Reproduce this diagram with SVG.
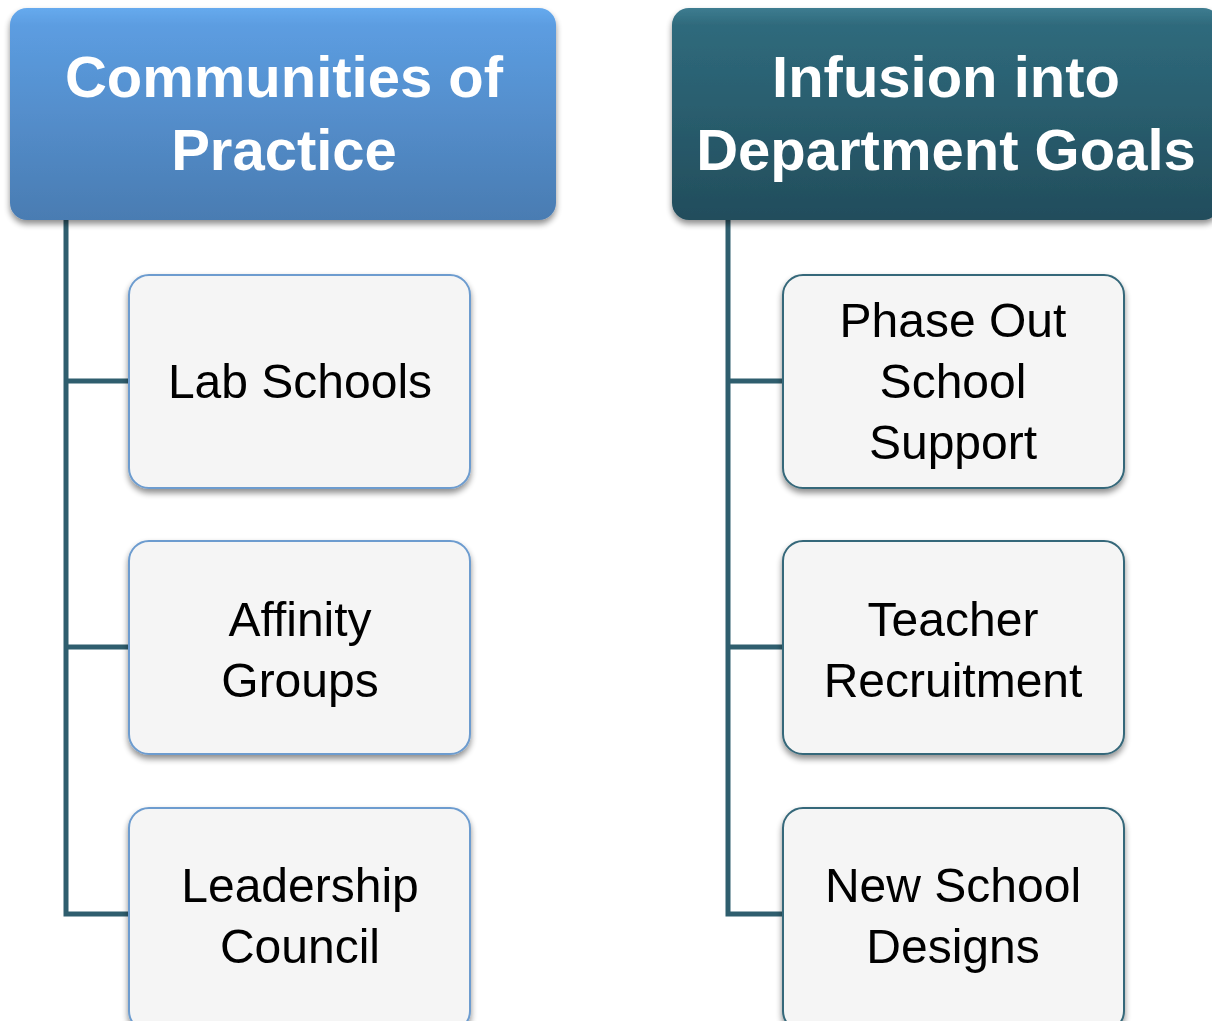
<svg xmlns="http://www.w3.org/2000/svg" width="1212" height="1021" viewBox="0 0 1212 1021">
<defs>
<linearGradient id="gBlue" x1="0" y1="0" x2="0" y2="1">
<stop offset="0" stop-color="#66aaee"/>
<stop offset="0.08" stop-color="#5c9de1"/>
<stop offset="1" stop-color="#4a7cb2"/>
</linearGradient>
<linearGradient id="gTeal" x1="0" y1="0" x2="0" y2="1">
<stop offset="0" stop-color="#3d7c90"/>
<stop offset="0.08" stop-color="#2f6a7c"/>
<stop offset="1" stop-color="#224d5c"/>
</linearGradient>
<filter id="sh" x="-10%" y="-10%" width="120%" height="130%">
<feGaussianBlur in="SourceAlpha" stdDeviation="3"/>
<feOffset dx="0" dy="4" result="b"/>
<feComponentTransfer><feFuncA type="linear" slope="0.45"/></feComponentTransfer>
<feMerge><feMergeNode/><feMergeNode in="SourceGraphic"/></feMerge>
</filter>
</defs>
<style>
.hd{font-family:"Liberation Sans",Arial,sans-serif;font-weight:bold;font-size:58px;fill:#ffffff;text-anchor:middle}
.ch{font-family:"Liberation Sans",Arial,sans-serif;font-size:48px;fill:#000000;text-anchor:middle}
.cb{fill:#f5f5f5;stroke:#6d9ccf;stroke-width:2}
.ct{fill:#f5f5f5;stroke:#36687a;stroke-width:2}
.ln{fill:none;stroke:#2f5e6e;stroke-width:5;stroke-linejoin:miter}
</style>
<rect width="1212" height="1021" fill="#ffffff"/>
<g id="connectors">
<path class="ln" d="M66 220 V914 H129 M66 381 H129 M66 647 H129"/>
<path class="ln" d="M728 220 V914 H783 M728 381 H783 M728 647 H783"/>
</g>
<g id="header-communities" filter="url(#sh)">
<rect x="10" y="8" width="546" height="212" rx="17" fill="url(#gBlue)"/>
<text class="hd" x="284" y="97">Communities of</text>
<text class="hd" x="284" y="170">Practice</text>
</g>
<g id="header-infusion" filter="url(#sh)">
<rect x="672" y="8" width="548" height="212" rx="17" fill="url(#gTeal)"/>
<text class="hd" x="946" y="97">Infusion into</text>
<text class="hd" x="946" y="170">Department Goals</text>
</g>
<g id="lab-schools" filter="url(#sh)">
<rect class="cb" x="129" y="275" width="341" height="213" rx="20"/>
<text class="ch" x="300" y="398">Lab Schools</text>
</g>
<g id="affinity-groups" filter="url(#sh)">
<rect class="cb" x="129" y="541" width="341" height="213" rx="20"/>
<text class="ch" x="300" y="636">Affinity</text>
<text class="ch" x="300" y="697">Groups</text>
</g>
<g id="leadership-council" filter="url(#sh)">
<rect class="cb" x="129" y="808" width="341" height="223" rx="20"/>
<text class="ch" x="300" y="902">Leadership</text>
<text class="ch" x="300" y="963">Council</text>
</g>
<g id="phase-out" filter="url(#sh)">
<rect class="ct" x="783" y="275" width="341" height="213" rx="20"/>
<text class="ch" x="953" y="337">Phase Out</text>
<text class="ch" x="953" y="398">School</text>
<text class="ch" x="953" y="459">Support</text>
</g>
<g id="teacher-recruitment" filter="url(#sh)">
<rect class="ct" x="783" y="541" width="341" height="213" rx="20"/>
<text class="ch" x="953" y="636">Teacher</text>
<text class="ch" x="953" y="697">Recruitment</text>
</g>
<g id="new-school-designs" filter="url(#sh)">
<rect class="ct" x="783" y="808" width="341" height="223" rx="20"/>
<text class="ch" x="953" y="902">New School</text>
<text class="ch" x="953" y="963">Designs</text>
</g>
</svg>
